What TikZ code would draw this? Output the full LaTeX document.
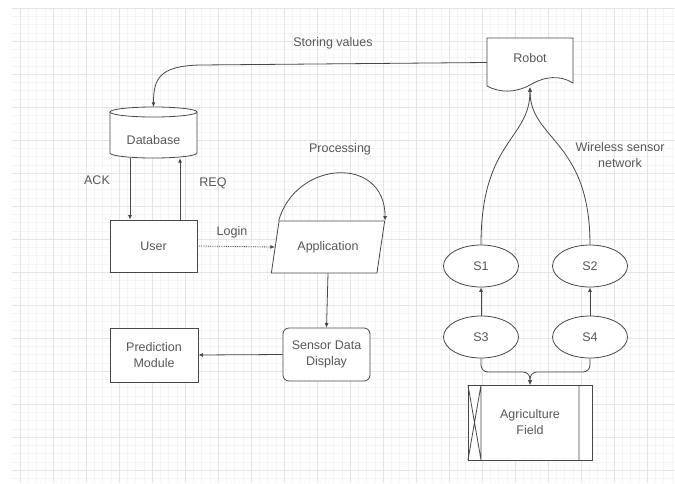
\documentclass[tikz,border=0pt]{standalone}
\usepackage{fontspec}
\setmainfont{Liberation Sans}
\usetikzlibrary{arrows.meta,shapes.geometric}
\tikzset{
  outline/.style={draw=black!72, line width=0.8pt},
  box/.style={outline, fill=white, align=center, inner sep=1pt},
  label text/.style={align=center, inner sep=0pt},
  link/.style={draw=black!72, line width=0.8pt, -{Latex[length=4.5pt,width=4pt]}},
}
\begin{document}
\begin{tikzpicture}[x=1pt,y=-1pt,font=\fontsize{12.5}{16}\selectfont,text=black!66]
  \useasboundingbox (0,0) rectangle (675,483);
  \fill[white] (0,0) rectangle (675,483);
  % grid
  \foreach \x in {20,28.25,...,675} \draw[black!4,line width=0.5pt] (\x,8) -- (\x,483);
  \foreach \y in {16.25,24.5,...,483} \draw[black!4,line width=0.5pt] (12,\y) -- (675,\y);
  \foreach \x in {20,53,...,675} \draw[black!10,line width=0.6pt] (\x,8) -- (\x,483);
  \foreach \y in {8,41,...,483} \draw[black!10,line width=0.6pt] (12,\y) -- (675,\y);

  % database
  \draw[outline,fill=white] (110,112) -- (110,153) arc[start angle=180,end angle=360,x radius=43.5pt,y radius=5pt]
    -- (197,112) arc[start angle=0,end angle=180,x radius=43.5pt,y radius=5pt] -- cycle;
  \draw[outline] (110,112) arc[start angle=180,end angle=360,x radius=43.5pt,y radius=5pt];
  \node[label text,minimum width=87pt,minimum height=51pt,text height=24pt,text depth=0pt] (db) at (153.5,132.5) {Database};

  % robot
  \draw[outline,fill=white] (487,86) -- (487,38) -- (573,38) -- (573,83)
    .. controls (560,75) and (545,76) .. (530,85) .. controls (515,93) and (500,93) .. (487,86) -- cycle;
  \node[label text,minimum width=86pt,minimum height=49pt,text depth=9pt] (robot) at (530,62.5) {Robot};

  % agriculture field
  \draw[outline,fill=white] (468,385) rectangle (592,460);
  \draw[outline] (481,385) -- (481,460) (579,385) -- (579,460) (468,385) -- (481,460) (481,385) -- (468,460);
  \node[label text,minimum width=124pt,minimum height=75pt] (field) at (530,422.5) {Agriculture\\Field};

  \node[box,minimum width=87pt,minimum height=52pt] (user) at (153.5,246) {User};
  \node[box,minimum width=88pt,minimum height=54pt] (pred) at (154,355) {Prediction\\Module};
  \node[box,rounded corners=6pt,minimum width=87pt,minimum height=53pt] (sensor) at (326.5,354.5) {Sensor Data\\Display};
  \node[box,trapezium,trapezium left angle=70,trapezium right angle=110,trapezium stretches=true,
    minimum width=114pt,minimum height=52pt] (app) at (328,247) {Application};

  \node[box,ellipse,minimum width=75pt,minimum height=42pt] (s1) at (481,266) {S1};
  \node[box,ellipse,minimum width=75pt,minimum height=42pt] (s2) at (590,266) {S2};
  \node[box,ellipse,minimum width=75pt,minimum height=42pt] (s3) at (481,337) {S3};
  \node[box,ellipse,minimum width=75pt,minimum height=42pt] (s4) at (590,337) {S4};

  \node[label text] (storing) at (333,43) {Storing values};
  \node[label text] (processing) at (340,149) {Processing};
  \node[label text] (login) at (232,232) {Login};
  \node[label text] (ack) at (97,180) {ACK};
  \node[label text] (req) at (213,183) {REQ};
  \node[label text] (wsn) at (620,155) {Wireless sensor\\network};

  \draw[link] (robot.west) -- (200,65) .. controls (160,66) and (153.5,78) .. (db.north);
  \draw[link] ([xshift=-23.5pt]db.south) -- ([xshift=-23.5pt]user.north);
  \draw[link] ([xshift=26.5pt]user.north) -- ([xshift=26.5pt]db.south);
  \draw[link,densely dotted] (user.east) -- (app.west);
  \draw[link] (app.top left corner) .. controls (296,160) and (385,155) .. (app.top right corner);
  \draw[link] (app.south) -- (sensor.north);
  \draw[link] (sensor.west) -- (pred.east);
  \draw[link] (s1.north) .. controls (481,140) and (530,140) .. (robot.south);
  \draw[link] (s2.north) .. controls (590,140) and (530,140) .. (robot.south);
  \draw[link] (s3.north) -- (s1.south);
  \draw[link] (s4.north) -- (s2.south);
  \coordinate (fork) at (530,372);
  \draw[link,rounded corners=7pt] (s3.south) |- (fork) -- (field.north);
  \draw[link,rounded corners=7pt] (s4.south) |- (fork) -- (field.north);
\end{tikzpicture}
\end{document}
